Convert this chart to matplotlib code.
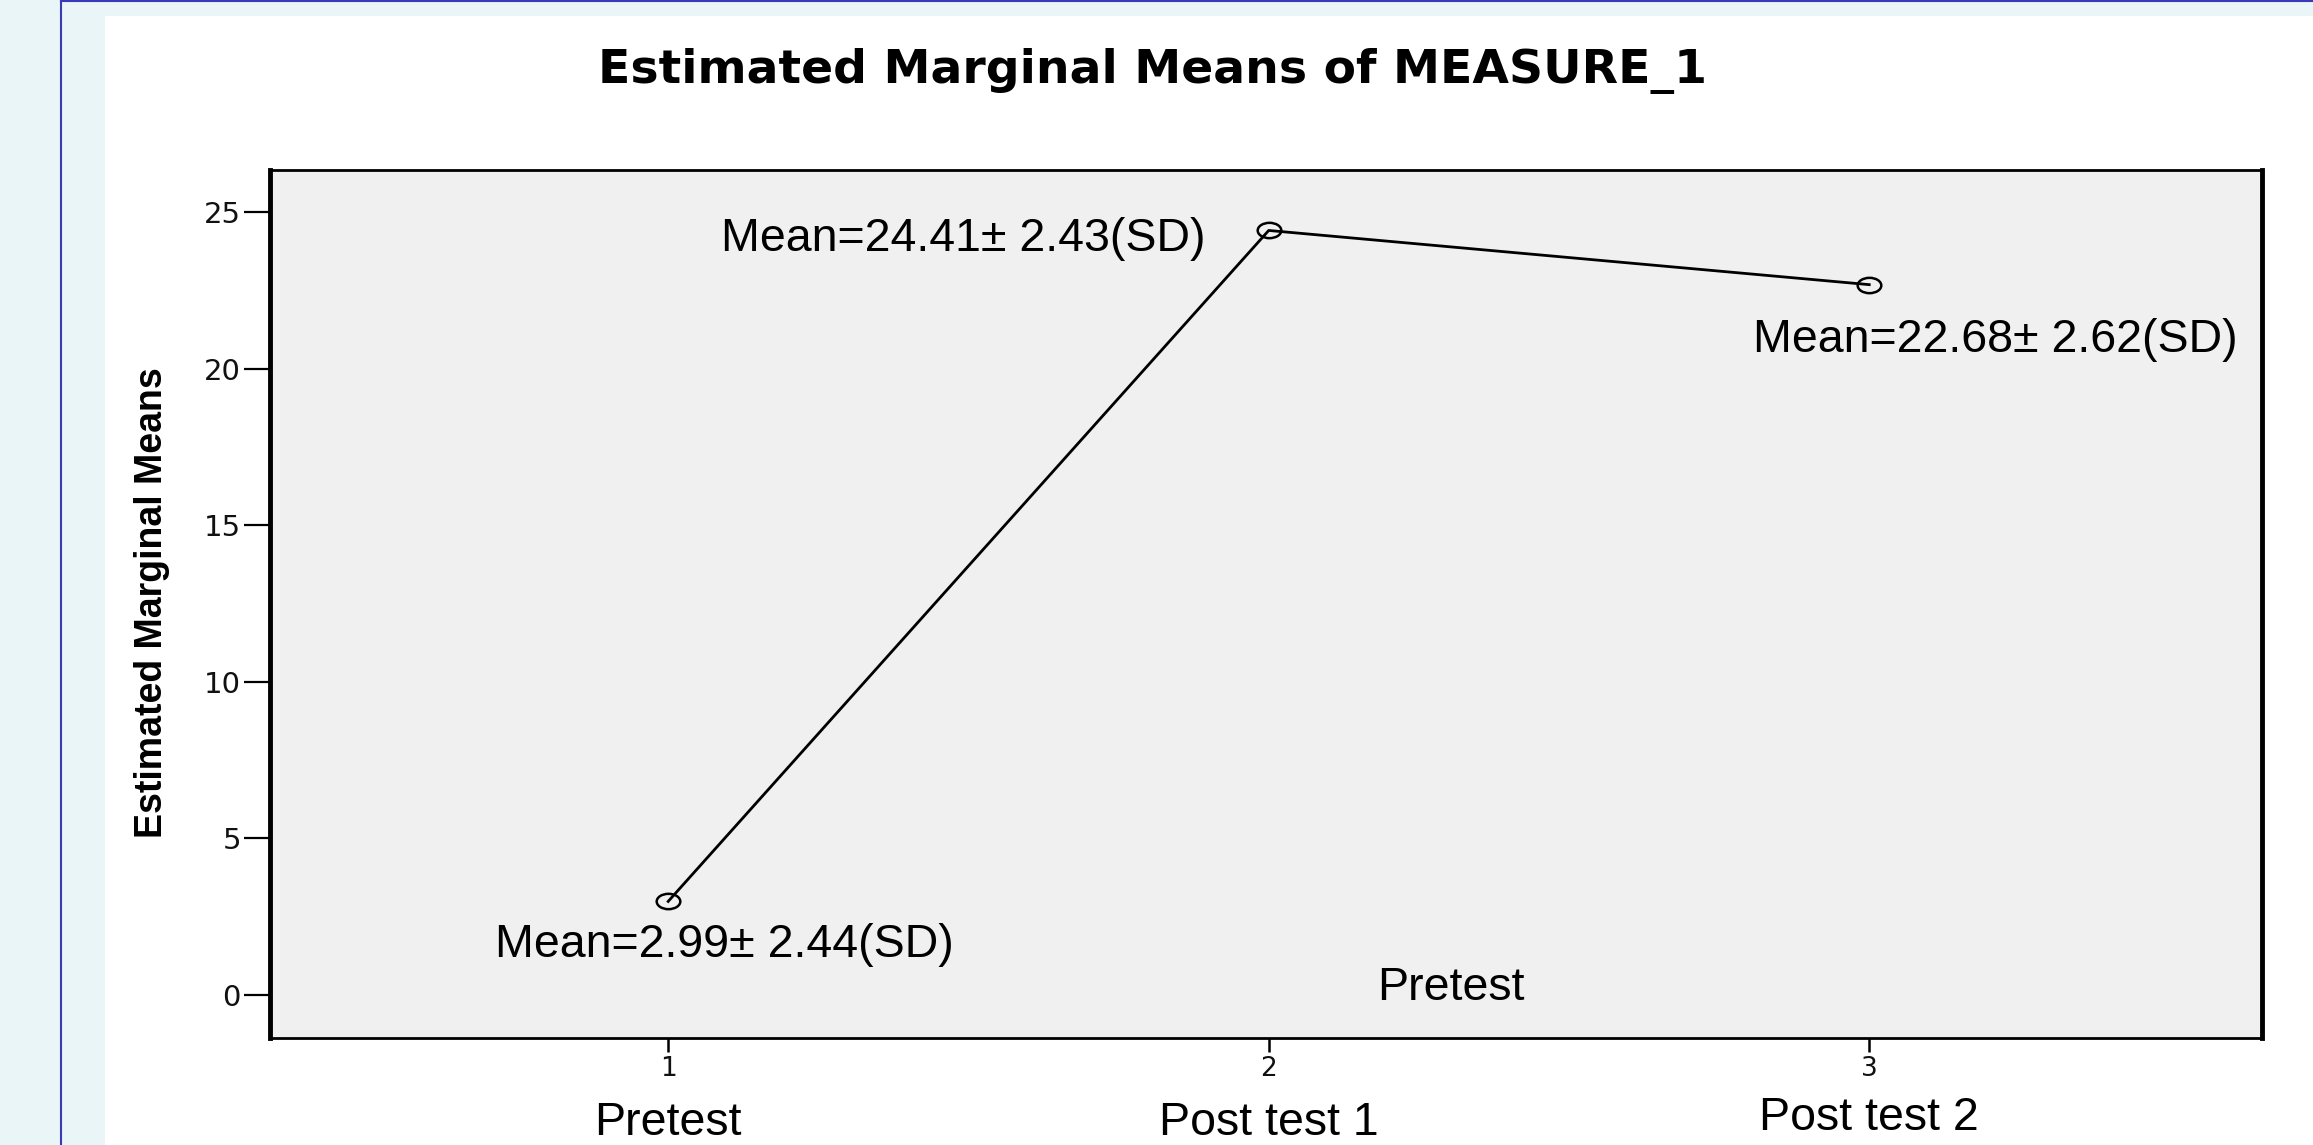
import matplotlib
matplotlib.use("Agg")
import matplotlib.pyplot as plt
import numpy as np
from matplotlib.path import Path
from matplotlib.patches import Rectangle
from matplotlib.lines import Line2D

# ---- data ----
time_points = [1, 2, 3]
means = [2.99, 24.41, 22.68]
sds = [2.44, 2.43, 2.62]
category_names = ["Pretest", "Post test 1", "Post test 2"]
y_ticks = [0, 5, 10, 15, 20, 25]
title = "Estimated Marginal Means of MEASURE_1"
y_label = "Estimated Marginal Means"
inner_label = "Pretest"

W, H = 2313, 1145
fig = plt.figure(figsize=(W / 100, H / 100), dpi=100)
fig.patch.set_facecolor("#EAF5F8")

# white panel and blue frame lines
fig.add_artist(Rectangle((105 / W, 0), 1 - 105 / W, 1 - 16 / H,
                         transform=fig.transFigure, facecolor="white",
                         edgecolor="none", zorder=0))
fig.add_artist(Line2D([61 / W, 61 / W], [0, 1], transform=fig.transFigure,
                      color="#3A3AB4", lw=1.5))
fig.add_artist(Line2D([61 / W, 1], [1 - 1 / H, 1 - 1 / H], transform=fig.transFigure,
                      color="#3A3AB4", lw=1.5))

ax_l, ax_r, ax_t, ax_b = 270, 2262, 170, 1038
ax = fig.add_axes([ax_l / W, (H - ax_b) / H, (ax_r - ax_l) / W, (ax_b - ax_t) / H])
ax.set_facecolor("#F0F0F0")

# elliptical open marker
circ = Path.unit_circle()
ell = Path(circ.vertices * np.array([1.0, 0.65]), circ.codes)

ax.plot(time_points, means, color="black", lw=2.0, marker=ell, markersize=17,
        markerfacecolor="none", markeredgecolor="black", markeredgewidth=1.8,
        zorder=3)

ax.set_xlim(0.337, 3.654)
ax.set_ylim(-1.37, 26.34)
ax.set_xticks(time_points)
ax.set_xticklabels([str(t) for t in time_points])
ax.set_yticks(y_ticks)
ax.set_yticklabels([str(v) for v in y_ticks])

ax.tick_params(axis="y", direction="out", length=19, width=1.6, pad=2,
               labelsize=21, labelcolor="#111111")
ax.tick_params(axis="x", direction="out", length=10, width=1.8, pad=3,
               labelsize=19, labelcolor="#111111")
for lab in ax.get_yticklabels() + ax.get_xticklabels():
    lab.set_family("DejaVu Sans")

for s in ["left", "right"]:
    ax.spines[s].set_linewidth(3.5)
for s in ["top", "bottom"]:
    ax.spines[s].set_linewidth(2.0)

# mean ± SD annotations
ann_font = dict(family=["Liberation Sans", "DejaVu Sans"], fontsize=33.5, color="black")
offsets = [(-173, -56), (-548, -21), (-116, -67)]
for x, m, sd, (dx, dy) in zip(time_points, means, sds, offsets):
    ax.annotate(f"Mean={m:.2f}\u00b1 {sd:.2f}(SD)", xy=(x, m), xytext=(dx, dy),
                textcoords="offset pixels", ha="left", va="baseline", **ann_font)

ax.text(2.304, 0.22, inner_label, ha="center", va="center", **ann_font)

# category names beneath ticks (baseline positions in figure pixels from top)
cat_base = [1135, 1135, 1130]
for x, name, yb in zip(time_points, category_names, cat_base):
    ax.annotate(name, xy=(x, (H - yb) / H), xycoords=("data", "figure fraction"),
                ha="center", va="baseline", annotation_clip=False, **ann_font)

fig.text(1153 / W, (H - 71) / H, title, ha="center", va="center",
         family=["DejaVu Sans"], fontweight="bold", fontsize=34)
fig.text(152 / W, (H - 603) / H, y_label, ha="center", va="center", rotation=90,
         family=["Liberation Sans Narrow", "Liberation Sans", "DejaVu Sans"],
         fontweight="bold", fontsize=27)

fig.savefig("out.png", dpi=100, facecolor=fig.get_facecolor())
